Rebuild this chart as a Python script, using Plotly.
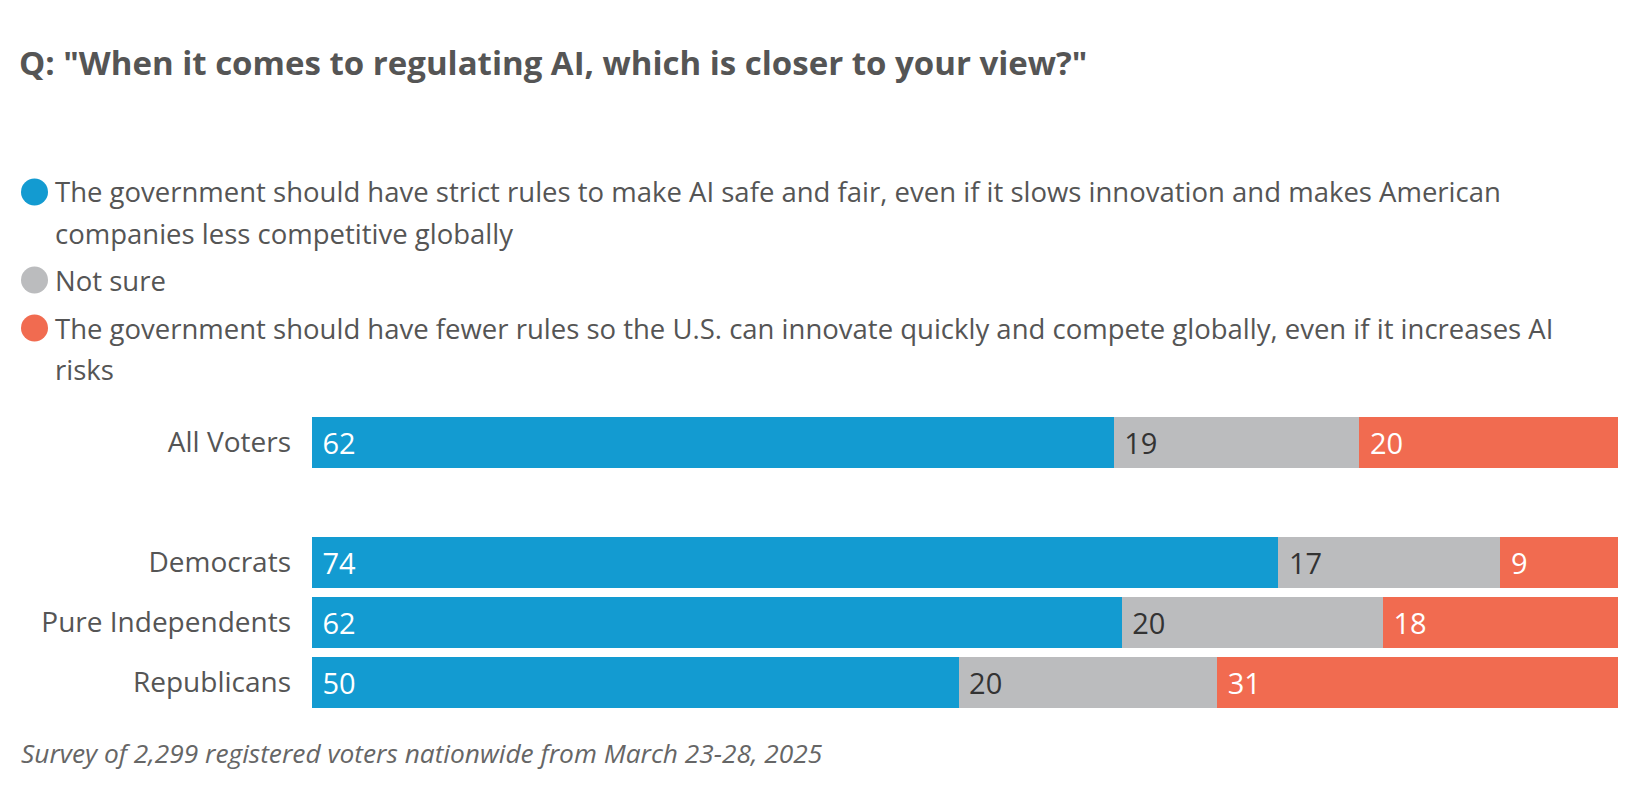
import plotly.graph_objects as go

# survey data
groups = ["All Voters", " ", "Democrats", "Pure Independents", "Republicans"]
strict_rules = [62, None, 74, 62, 50]
not_sure = [19, None, 17, 20, 20]
fewer_rules = [20, None, 9, 18, 31]

series_names = [
    "The government should have strict rules to make AI safe and fair, even if it slows innovation and makes American<br>companies less competitive globally",
    "Not sure",
    "The government should have fewer rules so the U.S. can innovate quickly and compete globally, even if it increases AI<br>risks",
]
colors = ["#139bd1", "#bbbcbe", "#f16b50"]
text_colors = ["#ffffff", "#333333", "#ffffff"]

title = 'Q: "When it comes to regulating AI, which is closer to your view?"'
note = "Survey of 2,299 registered voters nationwide from March 23-28, 2025"

# page body has an 8px margin, so work in window pixels and shift
OFF = 8
W, H = 1640 - OFF, 804 - OFF
L, R, T, B = 312 - OFF, 22, 412 - OFF, 100 - OFF
FONT = "Open Sans"


def px_x(p):
    return (p - OFF - L) / (W - L - R)


def px_y(p):
    return (H - B - (p - OFF)) / (H - T - B)


fig = go.Figure()
for vals, name, col, tcol in zip([strict_rules, not_sure, fewer_rules], series_names, colors, text_colors):
    fig.add_trace(go.Bar(
        y=groups, x=vals, orientation="h", name=name,
        marker=dict(color=col, line=dict(width=0)),
        text=["" if v is None else "\u00a0" + str(v) for v in vals],
        texttemplate="%{text}",
        textposition="inside", insidetextanchor="start", textangle=0,
        insidetextfont=dict(family=FONT, size=29, color=tcol),
        showlegend=False, hoverinfo="skip",
    ))

# custom legend: big dots + wrapped labels
shapes = []
annotations = []
item_y = [192, 280, 328]
for name, col, y0 in zip(series_names, colors, item_y):
    shapes.append(dict(type="circle", xref="paper", yref="paper",
                       x0=px_x(21), x1=px_x(48), y0=px_y(y0 - 13.5), y1=px_y(y0 + 13.5),
                       fillcolor=col, line=dict(width=0)))
    for i, line in enumerate(name.split("<br>")):
        annotations.append(dict(text=line, xref="paper", yref="paper",
                                x=px_x(53), y=px_y(y0 + 41 * i), xanchor="left", yanchor="middle",
                                showarrow=False, font=dict(family=FONT, size=27.5, color="#555555")))

annotations.append(dict(text="<i>" + note + "</i>", xref="paper", yref="paper",
                        x=px_x(19), y=px_y(753), xanchor="left", yanchor="middle",
                        showarrow=False, font=dict(family=FONT, size=26.3, color="#666666")))

fig.update_layout(
    width=W, height=H,
    margin=dict(l=L, r=R, t=T, b=B),
    barmode="stack", barnorm="percent", bargap=0.15,
    paper_bgcolor="white", plot_bgcolor="white",
    title=dict(text="<b>" + title + "</b>", xref="container", yref="container",
               x=(19 - OFF) / W, y=1 - (63 - OFF) / H, xanchor="left", yanchor="middle",
               font=dict(family=FONT, size=33, color="#555555")),
    xaxis=dict(range=[0, 100], visible=False, fixedrange=True),
    yaxis=dict(categoryorder="array", categoryarray=groups, range=[4.5, -0.5],
               showgrid=False, zeroline=False, showline=False, ticks="",
               ticklabelstandoff=20,
               tickfont=dict(family=FONT, size=28, color="#555555")),
    shapes=shapes, annotations=annotations,
)

fig.write_html("out.html")
